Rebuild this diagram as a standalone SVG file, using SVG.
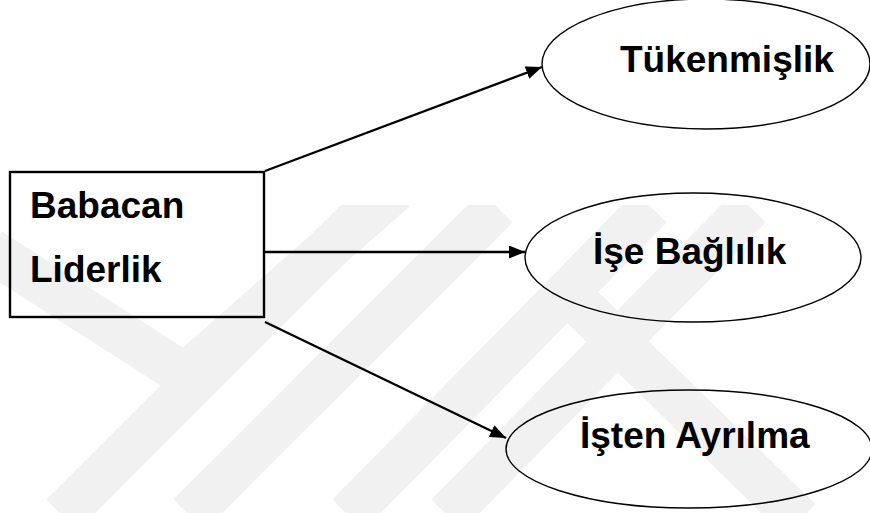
<svg xmlns="http://www.w3.org/2000/svg" width="870" height="513" viewBox="0 0 870 513">
  <style>
    .lbl { font-family: "Liberation Sans", Arial, sans-serif; font-weight: bold; font-size: 37px; fill: #000; }
    .box { fill: none; stroke: #000; stroke-width: 2.4; }
    .oval { fill: none; stroke: #000; stroke-width: 1.4; }
    .conn { stroke: #000; stroke-width: 2.4; fill: none; }
    .wm { fill: none; stroke: #f1f1f1; stroke-width: 44; }
  </style>
  <defs>
    <marker id="arrow" markerUnits="userSpaceOnUse" markerWidth="17" markerHeight="13" refX="16" refY="6.5" orient="auto">
      <path d="M0,0 L16,6.5 L0,13 z" fill="#000"/>
    </marker>
    <clipPath id="wmclip"><rect x="0" y="205" width="870" height="308"/></clipPath>
  </defs>
  <rect width="870" height="513" fill="#fff"/>
  <g id="watermark" clip-path="url(#wmclip)">
    <polyline class="wm" points="-10,250 185,375 395,190"/>
    <line class="wm" x1="62" y1="515" x2="370" y2="207"/>
    <line class="wm" x1="189" y1="515" x2="497" y2="207"/>
    <line class="wm" x1="348" y1="515" x2="651" y2="207"/>
    <line class="wm" x1="447" y1="515" x2="750" y2="207"/>
    <line class="wm" x1="570" y1="295" x2="800" y2="520"/>
  </g>
  <g id="connectors">
    <line class="conn" x1="265" y1="171" x2="542" y2="67" marker-end="url(#arrow)"/>
    <line class="conn" x1="265" y1="252" x2="525" y2="252" marker-end="url(#arrow)"/>
    <line class="conn" x1="265" y1="322" x2="506" y2="438" marker-end="url(#arrow)"/>
  </g>
  <g id="babacan-liderlik">
    <rect class="box" x="10" y="172" width="254" height="145"/>
    <text class="lbl" x="30" y="218">Babacan</text>
    <text class="lbl" x="30" y="282">Liderlik</text>
  </g>
  <g id="tukenmislik">
    <ellipse class="oval" cx="706" cy="64" rx="164" ry="65"/>
    <text class="lbl" x="620" y="72">Tükenmişlik</text>
  </g>
  <g id="ise-baglilik">
    <ellipse class="oval" cx="693" cy="257.5" rx="168" ry="64.5"/>
    <text class="lbl" x="593" y="264">İşe Bağlılık</text>
  </g>
  <g id="isten-ayrilma">
    <ellipse class="oval" cx="689" cy="449" rx="183" ry="59"/>
    <text class="lbl" x="580" y="448">İşten Ayrılma</text>
  </g>
</svg>
